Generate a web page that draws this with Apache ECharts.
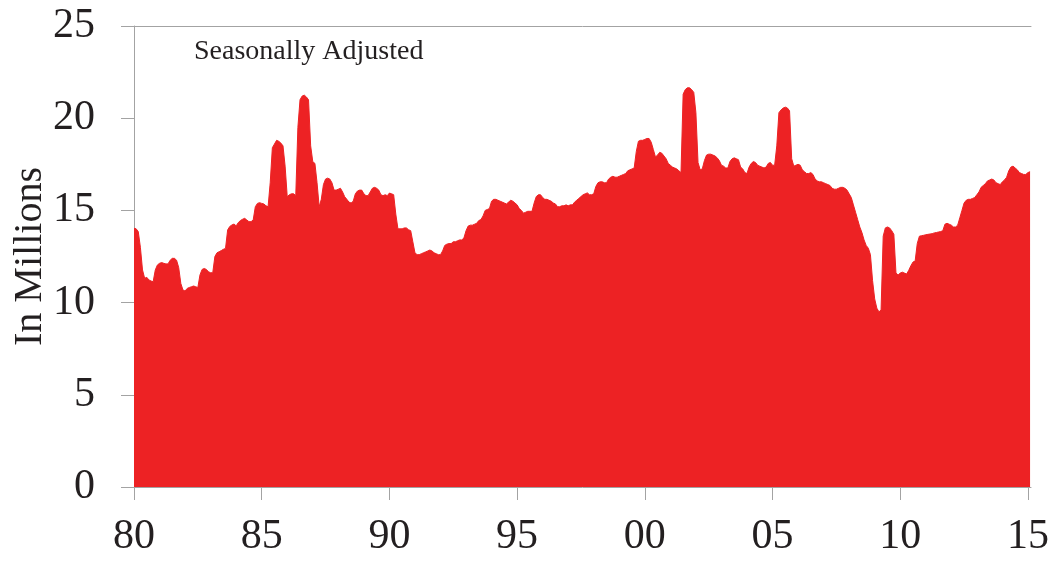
<!DOCTYPE html>
<html>
<head>
<meta charset="utf-8">
<script src="https://cdn.jsdelivr.net/npm/echarts@6/dist/echarts.min.js"></script>
<style>
html,body{margin:0;padding:0;background:#fff;}
#chart{width:1053px;height:561px;}
</style>
</head>
<body>
<div id="chart"></div>
<script>
// Monthly vehicle sales, seasonally adjusted annual rate (millions)
const startYear = 1980;
const s1980_84 = [14.03,14.0,13.85,13.0,11.77,11.32,11.37,11.23,11.17,11.13,11.77,12.04,
  12.13,12.17,12.13,12.1,12.1,12.3,12.4,12.4,12.3,11.9,11.04,10.68,
  10.63,10.77,10.82,10.86,10.9,10.86,10.82,11.5,11.8,11.85,11.8,11.67,
  11.62,11.62,12.5,12.7,12.76,12.82,12.89,12.94,13.94,14.13,14.21,14.26,
  14.16,14.34,14.45,14.52,14.57,14.48,14.39,14.39,14.48,15.2,15.38,15.42];
const s1985_89 = [15.38,15.35,15.25,15.2,16.5,18.4,18.6,18.8,18.75,18.65,18.5,17.4,
  15.74,15.85,15.9,15.9,15.8,19.5,21.0,21.2,21.25,21.15,21.0,18.5,
  17.64,17.55,16.5,15.2,15.6,16.4,16.7,16.75,16.7,16.5,16.1,16.1,
  16.15,16.2,16.0,15.74,15.6,15.45,15.4,15.5,15.9,16.05,16.1,16.1,
  15.9,15.8,15.8,16.0,16.2,16.25,16.2,16.1,15.85,15.8,15.85,15.8];
const s1990_94 = [15.94,15.9,15.85,14.8,14.0,14.0,14.0,14.05,14.05,13.95,13.9,13.3,
  12.7,12.6,12.6,12.65,12.7,12.75,12.8,12.85,12.8,12.7,12.65,12.6,
  12.6,12.8,13.1,13.17,13.2,13.2,13.3,13.3,13.35,13.4,13.4,13.5,
  13.9,14.15,14.2,14.2,14.25,14.3,14.45,14.5,14.7,15.0,15.05,15.1,
  15.5,15.6,15.6,15.55,15.5,15.45,15.4,15.35,15.45,15.55,15.5,15.4];
const s1995_99 = [15.3,15.1,15.0,14.85,14.9,14.95,14.95,14.95,15.4,15.75,15.85,15.85,
  15.7,15.6,15.6,15.55,15.5,15.4,15.35,15.2,15.2,15.25,15.25,15.3,
  15.25,15.3,15.3,15.45,15.55,15.65,15.75,15.85,15.9,15.95,15.85,15.85,
  15.9,16.3,16.5,16.55,16.55,16.5,16.5,16.7,16.8,16.85,16.8,16.8,
  16.85,16.9,16.95,17.0,17.15,17.2,17.25,17.3,18.2,18.75,18.8,18.8];
const s2000_04 = [18.85,18.9,18.9,18.7,18.3,17.9,18.0,18.15,18.1,17.95,17.8,17.55,
  17.45,17.35,17.3,17.25,17.15,17.05,21.3,21.55,21.65,21.65,21.55,21.4,
  20.3,17.6,17.2,17.25,17.7,18.0,18.05,18.05,18.0,17.95,17.85,17.7,
  17.45,17.4,17.3,17.3,17.65,17.8,17.85,17.8,17.75,17.35,17.25,17.05,
  17.0,17.35,17.55,17.65,17.6,17.45,17.4,17.35,17.3,17.35,17.55,17.6];
const s2005_09 = [17.45,17.45,18.5,20.3,20.45,20.55,20.6,20.55,20.4,17.8,17.4,17.45,
  17.5,17.45,17.2,17.1,17.0,17.0,17.05,16.95,16.7,16.6,16.55,16.55,
  16.5,16.45,16.4,16.35,16.2,16.15,16.15,16.2,16.25,16.25,16.2,16.1,
  15.9,15.7,15.3,14.9,14.5,14.1,13.8,13.4,13.1,12.95,12.6,11.2,
  10.2,9.7,9.5,9.6,13.6,14.05,14.1,14.05,13.9,13.7,11.6,11.5];
const s2010_15 = [11.6,11.65,11.6,11.55,11.75,12.0,12.2,12.25,13.2,13.6,13.63,13.65,
  13.68,13.7,13.72,13.74,13.78,13.8,13.83,13.85,13.9,14.25,14.3,14.25,
  14.2,14.1,14.1,14.2,14.6,15.0,15.4,15.55,15.6,15.6,15.65,15.7,
  15.85,16.0,16.25,16.35,16.45,16.6,16.65,16.7,16.65,16.5,16.45,16.4,
  16.55,16.65,16.8,17.15,17.35,17.4,17.3,17.2,17.05,17.0,16.95,16.95,
  17.05,17.1];
const tickYears = [1980,1985,1990,1995,2000,2005,2010,2015];
const titleText = 'Seasonally Adjusted';
const yName = 'In Millions';

const monthly = [].concat(s1980_84,s1985_89,s1990_94,s1995_99,s2000_04,s2005_09,s2010_15);
const seriesData = monthly.map((v,i)=>[startYear + i/12, v]);

const serif = 'Liberation Serif, Times New Roman, serif';
const txt = '#231F20';
const axisGray = '#A3A3A3';
const red = '#ED2224';

const chart = echarts.init(document.getElementById('chart'), null, {renderer:'canvas'});
chart.setOption({
  animation:false,
  backgroundColor:'#fff',
  title:{text:titleText,left:189,top:33,textStyle:{fontFamily:serif,fontSize:28,fontWeight:'normal',color:txt}},
  grid:{left:134,right:22,top:26,bottom:74,containLabel:false,outerBoundsMode:'none'},
  xAxis:[{
    type:'value',min:1980,max:2015.12,interval:5,
    axisLine:{show:true,onZero:false,lineStyle:{color:axisGray,width:1}},
    axisTick:{show:true,length:13,lineStyle:{color:axisGray},customValues:tickYears},
    axisLabel:{customValues:tickYears,margin:29,fontFamily:serif,fontSize:42,color:txt,
      formatter:v=>{const r=Math.round(v); if(Math.abs(v-r)>1e-6||r%5!==0) return ''; return String(r%100).padStart(2,'0');}},
    splitLine:{show:false}
  },{
    type:'value',position:'top',min:1980,max:2015.12,
    axisLine:{show:true,onZero:false,lineStyle:{color:axisGray,width:1}},
    axisTick:{show:false},axisLabel:{show:false},splitLine:{show:false}
  }],
  yAxis:{
    type:'value',min:0,max:25,interval:5,
    name:yName,nameLocation:'middle',nameGap:84,nameRotate:90,nameMoveOverlap:false,
    nameTextStyle:{fontFamily:serif,fontSize:40,color:txt},
    axisLine:{show:true,lineStyle:{color:axisGray,width:1}},
    axisTick:{show:true,length:13,lineStyle:{color:axisGray}},
    axisLabel:{margin:39,fontFamily:serif,fontSize:42,color:txt},
    splitLine:{show:false}
  },
  series:[{
    type:'line',xAxisIndex:0,data:seriesData,showSymbol:false,symbol:'none',
    lineStyle:{color:red,width:1},
    areaStyle:{color:red,opacity:1},
    itemStyle:{color:red}
  }]
});
</script>
</body>
</html>
